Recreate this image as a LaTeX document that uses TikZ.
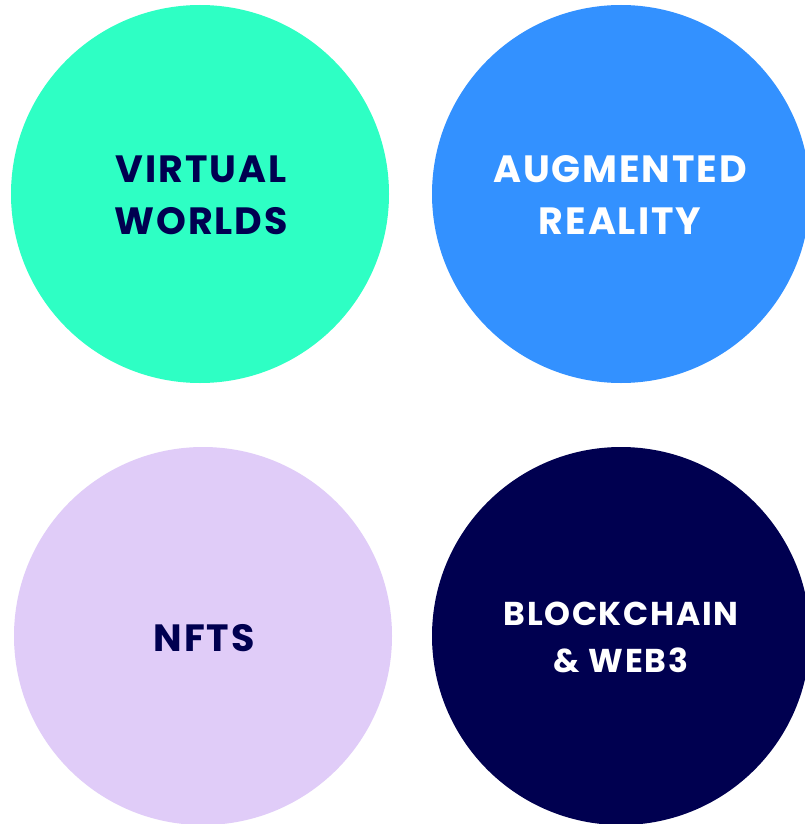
\documentclass[tikz,border=0pt]{standalone}
\usepackage{fontspec}
\setmainfont{Poppins}[LetterSpace=5]
\definecolor{teal}{HTML}{2EFFC4}
\definecolor{sky}{HTML}{3391FF}
\definecolor{lilac}{HTML}{E0CCF8}
\definecolor{navy}{HTML}{000050}
\begin{document}
\begin{tikzpicture}[x=1pt,y=-1pt,
  disc/.style={circle, inner sep=0pt, minimum size=378pt},
  label/.style={align=center, font=\bfseries\fontsize{38}{52}\selectfont},
  smalllabel/.style={align=center, font=\bfseries\fontsize{33}{47}\selectfont}]
  \useasboundingbox (0,0) rectangle (805,824);
  \fill[white] (0,0) rectangle (805,824);
  \begin{scope}
    \clip (0,0) rectangle (805,824);
    \node[disc, fill=teal]  (vw) at (200,194) {};
    \node[disc, fill=sky]   (ar) at (621,194) {};
    \node[disc, fill=lilac] (nf) at (203,636) {};
    \node[disc, fill=navy]  (bc) at (621,636) {};
  \end{scope}
  \node[label, text=navy]      (vwt) at (201,195) {VIRTUAL\\WORLDS};
  \node[label, text=white]     (art) at (620,195) {AUGMENTED\\REALITY};
  \node[label, text=navy]      (nft) at (204,638) {NFTS};
  \node[smalllabel, text=white](bct) at (621,637) {BLOCKCHAIN\\\&\ WEB3};
\end{tikzpicture}
\end{document}
